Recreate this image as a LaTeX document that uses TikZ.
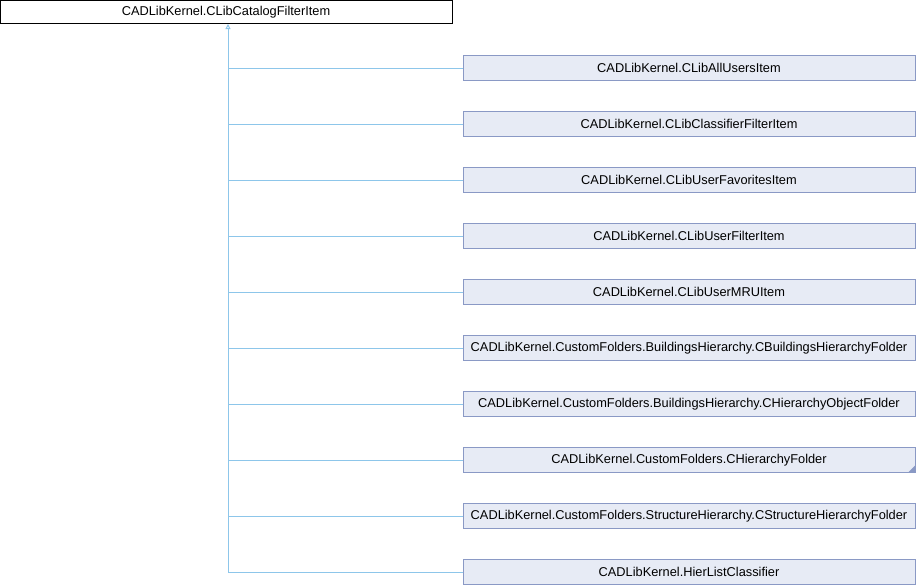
\documentclass[tikz,border=0pt]{standalone}
\usepackage{fontspec}
\setmainfont{Liberation Sans}
\usepackage{tikz}
\usetikzlibrary{arrows.meta}

\definecolor{edgeblue}{HTML}{8DC6EA}
\definecolor{boxfill}{HTML}{E7EBF5}
\definecolor{boxline}{HTML}{8A99C5}

\tikzset{
    base/.style={draw=black, fill=white, line width=1pt, minimum width=452pt, minimum height=23pt, inner sep=0pt, font=\fontsize{12.8}{15}\selectfont},
    derived/.style={draw=boxline, fill=boxfill, line width=1pt, minimum width=452pt, minimum height=25pt, inner sep=0pt, font=\fontsize{12.8}{15}\selectfont},
    edge/.style={draw=edgeblue, line width=1pt}
}

\begin{document}
\begin{tikzpicture}[x=1pt, y=-1pt]

        \useasboundingbox (0,0) rectangle (916,584);

        \node[base] (catalog) at (226,12) {CADLibKernel.CLibCatalogFilterItem};

        \node[derived] (allusers) at (689,68) {CADLibKernel.CLibAllUsersItem};
        \node[derived] (classifier) at (689,124) {CADLibKernel.CLibClassifierFilterItem};
        \node[derived] (favorites) at (689,180) {CADLibKernel.CLibUserFavoritesItem};
        \node[derived] (userfilter) at (689,236) {CADLibKernel.CLibUserFilterItem};
        \node[derived] (usermru) at (689,292) {CADLibKernel.CLibUserMRUItem};
        \node[derived] (buildings) at (689,348) {CADLibKernel.CustomFolders.BuildingsHierarchy.CBuildingsHierarchyFolder};
        \node[derived] (hierobject) at (689,404) {CADLibKernel.CustomFolders.BuildingsHierarchy.CHierarchyObjectFolder};
        \node[derived] (hierfolder) at (689,460) {CADLibKernel.CustomFolders.CHierarchyFolder};
        \node[derived] (structure) at (689,516) {CADLibKernel.CustomFolders.StructureHierarchy.CStructureHierarchyFolder};
        \node[derived] (hierlist) at (689,572) {CADLibKernel.HierListClassifier};

        % corner mark, CHierarchyFolder has more children
        \fill[boxline] ([xshift=-0.5pt,yshift=0.5pt]hierfolder.south east) -- ++(0,-7) -- ++(-7,7) -- cycle;

        \coordinate (trunk) at (228,572);

        \draw[edge, -{Triangle[open, width=5pt, length=5pt]}] (trunk) -- (trunk |- catalog.south);

        \draw[edge] (allusers.west -| trunk) -- (allusers.west);
        \draw[edge] (classifier.west -| trunk) -- (classifier.west);
        \draw[edge] (favorites.west -| trunk) -- (favorites.west);
        \draw[edge] (userfilter.west -| trunk) -- (userfilter.west);
        \draw[edge] (usermru.west -| trunk) -- (usermru.west);
        \draw[edge] (buildings.west -| trunk) -- (buildings.west);
        \draw[edge] (hierobject.west -| trunk) -- (hierobject.west);
        \draw[edge] (hierfolder.west -| trunk) -- (hierfolder.west);
        \draw[edge] (structure.west -| trunk) -- (structure.west);
        \draw[edge] (hierlist.west -| trunk) -- (hierlist.west);

\end{tikzpicture}
\end{document}
